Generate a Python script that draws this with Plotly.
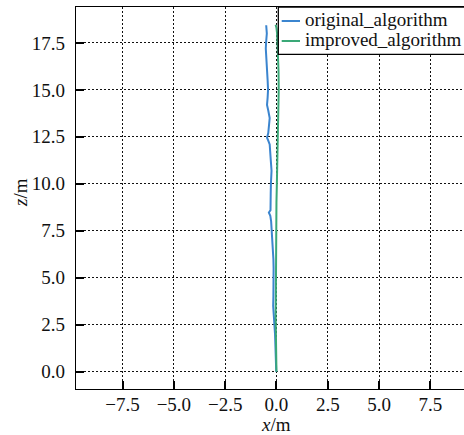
import plotly.graph_objects as go

# ---- data ----
orig_z = [0.0, 0.5, 1.0, 1.5, 2.0, 2.5, 3.0, 3.5, 4.0, 4.5, 5.0, 5.5, 6.0, 6.5, 7.0,
          7.5, 8.0, 8.3, 8.47, 8.6, 9.0, 9.5, 10.0, 10.7, 11.3, 11.8, 12.1, 12.3,
          12.46, 12.7, 13.0, 13.5, 13.9, 14.2, 14.6, 15.0, 15.5, 16.0, 16.5, 16.9,
          17.2, 17.6, 18.0, 18.44]
orig_x = [-0.01, -0.02, -0.03, -0.05, -0.07, -0.10, -0.14, -0.16, -0.15, -0.14,
          -0.14, -0.14, -0.15, -0.17, -0.20, -0.22, -0.26, -0.30, -0.37, -0.29,
          -0.27, -0.28, -0.27, -0.24, -0.28, -0.31, -0.33, -0.40, -0.46, -0.40,
          -0.36, -0.33, -0.40, -0.46, -0.43, -0.41, -0.43, -0.46, -0.49, -0.48,
          -0.52, -0.50, -0.47, -0.50]

impr_z = [0.0, 1.0, 2.0, 3.0, 4.0, 5.0, 6.0, 7.0, 8.0, 9.0, 10.0, 11.0, 12.0, 13.0,
          14.0, 15.0, 16.0, 17.0, 17.6, 18.0, 18.3, 18.47]
impr_x = [0.0, -0.02, -0.04, -0.04, -0.03, -0.03, -0.02, -0.01, -0.01, 0.0, 0.02,
          0.04, 0.05, 0.07, 0.10, 0.11, 0.10, 0.08, 0.06, 0.03, 0.0, -0.04]

series_names = ["original_algorithm", "improved_algorithm"]
series_colors = ["#3b85cf", "#3aa877"]
x_ticks = [-7.5, -5.0, -2.5, 0.0, 2.5, 5.0, 7.5]
y_ticks = [0.0, 2.5, 5.0, 7.5, 10.0, 12.5, 15.0, 17.5]

FONT = "Liberation Serif"
INK = "#111111"

fig = go.Figure()
fig.add_trace(go.Scatter(x=orig_x, y=orig_z, mode="lines", name=series_names[0],
                         line=dict(color=series_colors[0], width=2), showlegend=False))
fig.add_trace(go.Scatter(x=impr_x, y=impr_z, mode="lines", name=series_names[1],
                         line=dict(color=series_colors[1], width=2), showlegend=False))

W, H = 464, 435
L, R, T, B = 76, 0, 7, 46
pw, ph = W - L - R, H - T - B


def dx(px):
    return (px - L) / pw


def dy(py):
    return (H - B - py) / ph


# custom legend box
shapes = [dict(type="rect", xref="x domain", yref="y domain",
               x0=dx(278.3), x1=dx(468), y0=dy(54.3), y1=1.0,
               line=dict(color="black", width=1.3), fillcolor="white", layer="above")]
annotations = []
for i, (nm, col) in enumerate(zip(series_names, series_colors)):
    yy = dy(21 + 20 * i)
    shapes.append(dict(type="line", xref="x domain", yref="y domain",
                       x0=dx(281.7), x1=dx(300), y0=yy, y1=yy,
                       line=dict(color=col, width=2), layer="above"))
    annotations.append(dict(text=nm, xref="x domain", yref="y domain",
                            x=dx(303), y=dy(19.5 + 20.5 * i), xanchor="left",
                            yanchor="middle", showarrow=False,
                            font=dict(family=FONT, size=19, color=INK)))

annotations.append(dict(text="<i>x</i>/m", xref="x", yref="paper", x=0, y=0,
                        yshift=-35, xanchor="center", yanchor="middle",
                        showarrow=False, font=dict(family=FONT, size=19, color=INK)))
annotations.append(dict(text="<i>z</i>/m", xref="paper", yref="paper", x=0, y=0.5,
                        xshift=-56, yshift=5, textangle=-90, xanchor="center",
                        yanchor="middle", showarrow=False,
                        font=dict(family=FONT, size=19, color=INK)))

axis_common = dict(showline=True, linecolor="black", linewidth=1.3,
                   ticks="inside", ticklen=8, tickwidth=2, tickcolor="black",
                   showgrid=True, gridcolor="#111111", gridwidth=1.4,
                   griddash="2px,2px", zeroline=False,
                   tickfont=dict(family=FONT, size=19, color=INK),
                   tickformat=".1f")

fig.update_layout(
    width=W, height=H,
    margin=dict(l=L, r=R, t=T, b=B, pad=0),
    paper_bgcolor="white", plot_bgcolor="white",
    font=dict(family=FONT, color=INK),
    xaxis=dict(range=[-9.77, 9.14], tickvals=x_ticks, mirror=True,
               ticklabelstandoff=-2, **axis_common),
    yaxis=dict(range=[-0.92, 19.41], tickvals=y_ticks, mirror=False,
               ticklabelstandoff=6, **axis_common),
    shapes=shapes, annotations=annotations, showlegend=False,
)

fig.write_html("out.html")
